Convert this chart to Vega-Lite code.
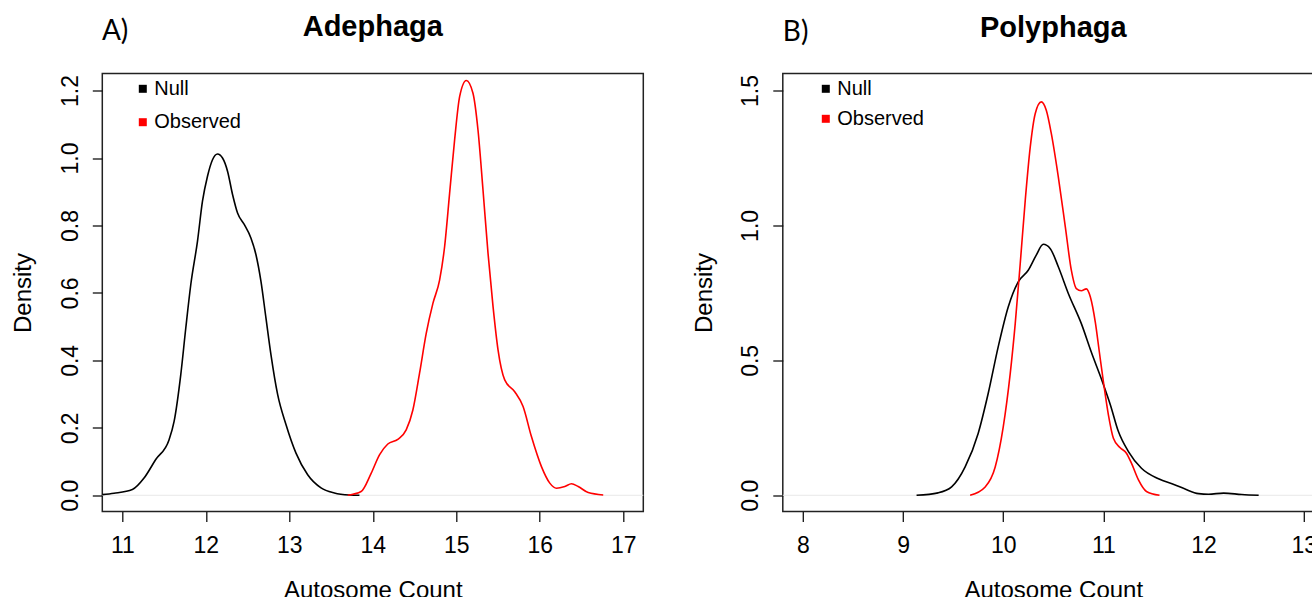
{
  "$schema": "https://vega.github.io/schema/vega-lite/v6.json",
  "background": "white",
  "padding": {"left": 10.3, "top": 11.5, "right": 0, "bottom": 0},
  "bounds": "flush",
  "spacing": 139.5,
  "config": {
    "font": "Liberation Sans",
    "view": {"stroke": "#222222", "strokeWidth": 1.5},
    "axis": {
      "domain": false,
      "grid": false,
      "tickColor": "#111111",
      "tickWidth": 1.3,
      "tickSize": 10,
      "labelColor": "black",
      "titleColor": "black",
      "labelFont": "Liberation Sans",
      "titleFont": "Liberation Sans",
      "labelFontSize": 23,
      "titleFontSize": 24,
      "titleFontWeight": "normal",
      "labelFlush": false,
      "labelOverlap": false,
      "labelBound": false
    },
    "axisX": {"labelBaseline": "alphabetic", "labelPadding": 31, "titleBaseline": "alphabetic", "titleY": 86},
    "axisY": {"labelAngle": -90, "labelAlign": "center", "labelBaseline": "alphabetic", "labelPadding": 15, "titleAngle": -90, "titleBaseline": "alphabetic", "titleX": -71.7},
    "legend": {
      "orient": "none",
      "title": null,
      "symbolType": "square",
      "symbolSize": 64,
      "symbolStrokeWidth": 0,
      "labelFont": "Liberation Sans",
      "labelFontSize": 20,
      "labelColor": "black",
      "labelOffset": 1.5,
      "padding": 0
    },
    "title": {"font": "Liberation Sans", "fontSize": 29, "fontWeight": "bold", "color": "black", "anchor": "middle", "baseline": "alphabetic", "offset": -24}
  },
  "datasets": {
    "curves": [
      {"p": "A", "s": "Null", "x": 10.76, "y": 0.002},
      {"p": "A", "s": "Null", "x": 10.9, "y": 0.006},
      {"p": "A", "s": "Null", "x": 11.12, "y": 0.017},
      {"p": "A", "s": "Null", "x": 11.26, "y": 0.051},
      {"p": "A", "s": "Null", "x": 11.4, "y": 0.106},
      {"p": "A", "s": "Null", "x": 11.56, "y": 0.165},
      {"p": "A", "s": "Null", "x": 11.62, "y": 0.219},
      {"p": "A", "s": "Null", "x": 11.7, "y": 0.358},
      {"p": "A", "s": "Null", "x": 11.76, "y": 0.496},
      {"p": "A", "s": "Null", "x": 11.82, "y": 0.625},
      {"p": "A", "s": "Null", "x": 11.9, "y": 0.753},
      {"p": "A", "s": "Null", "x": 11.96, "y": 0.872},
      {"p": "A", "s": "Null", "x": 12.02, "y": 0.946},
      {"p": "A", "s": "Null", "x": 12.08, "y": 0.995},
      {"p": "A", "s": "Null", "x": 12.14, "y": 1.012},
      {"p": "A", "s": "Null", "x": 12.2, "y": 1.0},
      {"p": "A", "s": "Null", "x": 12.26, "y": 0.961},
      {"p": "A", "s": "Null", "x": 12.32, "y": 0.892},
      {"p": "A", "s": "Null", "x": 12.38, "y": 0.837},
      {"p": "A", "s": "Null", "x": 12.46, "y": 0.803},
      {"p": "A", "s": "Null", "x": 12.54, "y": 0.763},
      {"p": "A", "s": "Null", "x": 12.6, "y": 0.714},
      {"p": "A", "s": "Null", "x": 12.66, "y": 0.635},
      {"p": "A", "s": "Null", "x": 12.72, "y": 0.526},
      {"p": "A", "s": "Null", "x": 12.78, "y": 0.417},
      {"p": "A", "s": "Null", "x": 12.86, "y": 0.299},
      {"p": "A", "s": "Null", "x": 12.96, "y": 0.21},
      {"p": "A", "s": "Null", "x": 13.08, "y": 0.125},
      {"p": "A", "s": "Null", "x": 13.22, "y": 0.061},
      {"p": "A", "s": "Null", "x": 13.38, "y": 0.022},
      {"p": "A", "s": "Null", "x": 13.54, "y": 0.007},
      {"p": "A", "s": "Null", "x": 13.72, "y": 0.001},
      {"p": "A", "s": "Null", "x": 13.84, "y": 0.0},
      {"p": "A", "s": "Observed", "x": 13.7, "y": 0.0},
      {"p": "A", "s": "Observed", "x": 13.86, "y": 0.011},
      {"p": "A", "s": "Observed", "x": 13.98, "y": 0.065},
      {"p": "A", "s": "Observed", "x": 14.08, "y": 0.12},
      {"p": "A", "s": "Observed", "x": 14.18, "y": 0.152},
      {"p": "A", "s": "Observed", "x": 14.3, "y": 0.166},
      {"p": "A", "s": "Observed", "x": 14.4, "y": 0.194},
      {"p": "A", "s": "Observed", "x": 14.48, "y": 0.253},
      {"p": "A", "s": "Observed", "x": 14.56, "y": 0.362},
      {"p": "A", "s": "Observed", "x": 14.64, "y": 0.48},
      {"p": "A", "s": "Observed", "x": 14.72, "y": 0.569},
      {"p": "A", "s": "Observed", "x": 14.8, "y": 0.638},
      {"p": "A", "s": "Observed", "x": 14.86, "y": 0.737},
      {"p": "A", "s": "Observed", "x": 14.92, "y": 0.895},
      {"p": "A", "s": "Observed", "x": 14.98, "y": 1.054},
      {"p": "A", "s": "Observed", "x": 15.04, "y": 1.182},
      {"p": "A", "s": "Observed", "x": 15.12, "y": 1.23},
      {"p": "A", "s": "Observed", "x": 15.2, "y": 1.192},
      {"p": "A", "s": "Observed", "x": 15.26, "y": 1.083},
      {"p": "A", "s": "Observed", "x": 15.32, "y": 0.905},
      {"p": "A", "s": "Observed", "x": 15.38, "y": 0.718},
      {"p": "A", "s": "Observed", "x": 15.44, "y": 0.56},
      {"p": "A", "s": "Observed", "x": 15.5, "y": 0.431},
      {"p": "A", "s": "Observed", "x": 15.58, "y": 0.342},
      {"p": "A", "s": "Observed", "x": 15.7, "y": 0.307},
      {"p": "A", "s": "Observed", "x": 15.8, "y": 0.263},
      {"p": "A", "s": "Observed", "x": 15.9, "y": 0.174},
      {"p": "A", "s": "Observed", "x": 16.02, "y": 0.085},
      {"p": "A", "s": "Observed", "x": 16.12, "y": 0.036},
      {"p": "A", "s": "Observed", "x": 16.2, "y": 0.021},
      {"p": "A", "s": "Observed", "x": 16.3, "y": 0.026},
      {"p": "A", "s": "Observed", "x": 16.38, "y": 0.034},
      {"p": "A", "s": "Observed", "x": 16.46, "y": 0.026},
      {"p": "A", "s": "Observed", "x": 16.58, "y": 0.008},
      {"p": "A", "s": "Observed", "x": 16.76, "y": 0.001},
      {"p": "B", "s": "Null", "x": 9.135, "y": 0.0},
      {"p": "B", "s": "Null", "x": 9.35, "y": 0.009},
      {"p": "B", "s": "Null", "x": 9.485, "y": 0.031},
      {"p": "B", "s": "Null", "x": 9.62, "y": 0.105},
      {"p": "B", "s": "Null", "x": 9.75, "y": 0.229},
      {"p": "B", "s": "Null", "x": 9.85, "y": 0.377},
      {"p": "B", "s": "Null", "x": 9.95, "y": 0.55},
      {"p": "B", "s": "Null", "x": 10.05, "y": 0.698},
      {"p": "B", "s": "Null", "x": 10.15, "y": 0.791},
      {"p": "B", "s": "Null", "x": 10.25, "y": 0.834},
      {"p": "B", "s": "Null", "x": 10.33, "y": 0.89},
      {"p": "B", "s": "Null", "x": 10.4, "y": 0.93},
      {"p": "B", "s": "Null", "x": 10.47, "y": 0.914},
      {"p": "B", "s": "Null", "x": 10.55, "y": 0.847},
      {"p": "B", "s": "Null", "x": 10.65, "y": 0.748},
      {"p": "B", "s": "Null", "x": 10.78, "y": 0.636},
      {"p": "B", "s": "Null", "x": 10.88, "y": 0.53},
      {"p": "B", "s": "Null", "x": 10.99, "y": 0.421},
      {"p": "B", "s": "Null", "x": 11.07, "y": 0.335},
      {"p": "B", "s": "Null", "x": 11.15, "y": 0.236},
      {"p": "B", "s": "Null", "x": 11.25, "y": 0.162},
      {"p": "B", "s": "Null", "x": 11.38, "y": 0.1},
      {"p": "B", "s": "Null", "x": 11.55, "y": 0.061},
      {"p": "B", "s": "Null", "x": 11.71, "y": 0.039},
      {"p": "B", "s": "Null", "x": 11.81, "y": 0.024},
      {"p": "B", "s": "Null", "x": 11.95, "y": 0.006},
      {"p": "B", "s": "Null", "x": 12.05, "y": 0.004},
      {"p": "B", "s": "Null", "x": 12.2, "y": 0.008},
      {"p": "B", "s": "Null", "x": 12.38, "y": 0.003},
      {"p": "B", "s": "Null", "x": 12.55, "y": 0.0},
      {"p": "B", "s": "Observed", "x": 9.67, "y": 0.0},
      {"p": "B", "s": "Observed", "x": 9.82, "y": 0.031},
      {"p": "B", "s": "Observed", "x": 9.92, "y": 0.105},
      {"p": "B", "s": "Observed", "x": 10.0, "y": 0.253},
      {"p": "B", "s": "Observed", "x": 10.07, "y": 0.451},
      {"p": "B", "s": "Observed", "x": 10.12, "y": 0.636},
      {"p": "B", "s": "Observed", "x": 10.17, "y": 0.859},
      {"p": "B", "s": "Observed", "x": 10.22, "y": 1.093},
      {"p": "B", "s": "Observed", "x": 10.27, "y": 1.291},
      {"p": "B", "s": "Observed", "x": 10.32, "y": 1.415},
      {"p": "B", "s": "Observed", "x": 10.38, "y": 1.458},
      {"p": "B", "s": "Observed", "x": 10.43, "y": 1.427},
      {"p": "B", "s": "Observed", "x": 10.48, "y": 1.341},
      {"p": "B", "s": "Observed", "x": 10.55, "y": 1.18},
      {"p": "B", "s": "Observed", "x": 10.62, "y": 0.995},
      {"p": "B", "s": "Observed", "x": 10.68, "y": 0.834},
      {"p": "B", "s": "Observed", "x": 10.73, "y": 0.766},
      {"p": "B", "s": "Observed", "x": 10.78, "y": 0.758},
      {"p": "B", "s": "Observed", "x": 10.83, "y": 0.765},
      {"p": "B", "s": "Observed", "x": 10.87, "y": 0.735},
      {"p": "B", "s": "Observed", "x": 10.92, "y": 0.64},
      {"p": "B", "s": "Observed", "x": 10.96, "y": 0.53},
      {"p": "B", "s": "Observed", "x": 11.0, "y": 0.421},
      {"p": "B", "s": "Observed", "x": 11.05, "y": 0.298},
      {"p": "B", "s": "Observed", "x": 11.1, "y": 0.211},
      {"p": "B", "s": "Observed", "x": 11.165, "y": 0.177},
      {"p": "B", "s": "Observed", "x": 11.23, "y": 0.156},
      {"p": "B", "s": "Observed", "x": 11.28, "y": 0.119},
      {"p": "B", "s": "Observed", "x": 11.35, "y": 0.057},
      {"p": "B", "s": "Observed", "x": 11.43, "y": 0.014},
      {"p": "B", "s": "Observed", "x": 11.56, "y": 0.0}
    ]
  },
  "resolve": {"scale": {"color": "independent"}, "legend": {"color": "independent"}},
  "hconcat": [
    {
      "width": 541,
      "height": 438,
      "title": {"text": "Adephaga"},
      "layer": [
        {
          "data": {"values": [{"z": 0}]},
          "mark": {"type": "rule", "color": "#e8e8e8", "strokeWidth": 1},
          "encoding": {"y": {"field": "z", "type": "quantitative"}}
        },
        {
          "data": {"name": "curves"},
          "transform": [{"filter": "datum.p === 'A'"}],
          "mark": {"type": "line", "strokeWidth": 1.6, "interpolate": "monotone"},
          "encoding": {
            "x": {"field": "x", "type": "quantitative", "scale": {"domain": [10.76, 17.24], "nice": false, "zero": false},
                  "axis": {"values": [11, 12, 13, 14, 15, 16, 17], "format": "d", "title": "Autosome Count"}},
            "y": {"field": "y", "type": "quantitative", "scale": {"domain": [-0.0481, 1.2506], "nice": false, "zero": false},
                  "axis": {"values": [0, 0.2, 0.4, 0.6, 0.8, 1.0, 1.2], "format": ".1f", "title": "Density"}},
            "color": {"field": "s", "type": "nominal", "scale": {"domain": ["Null", "Observed"], "range": ["#000000", "#ff0000"]},
                      "legend": {"legendX": 30.5, "legendY": 5.3, "rowPadding": 13.4,
                                 "encode": {"symbols": {"update": {"fill": {"signal": "datum.value === 'Observed' ? '#ff0000' : '#000000'"}, "strokeWidth": {"value": 0}}}}}}
          }
        },
        {
          "data": {"values": [{"label": "A)"}]},
          "mark": {"type": "text", "font": "Lato", "fontSize": 28, "align": "left", "baseline": "alphabetic", "color": "black"},
          "encoding": {
            "x": {"datum": 10.755, "type": "quantitative"},
            "y": {"datum": 1.351, "type": "quantitative"},
            "text": {"field": "label"}
          }
        }
      ]
    },
    {
      "width": 541,
      "height": 438,
      "title": {"text": "Polyphaga"},
      "layer": [
        {
          "data": {"values": [{"z": 0}]},
          "mark": {"type": "rule", "color": "#e8e8e8", "strokeWidth": 1},
          "encoding": {"y": {"field": "z", "type": "quantitative"}}
        },
        {
          "data": {"name": "curves"},
          "transform": [{"filter": "datum.p === 'B'"}],
          "mark": {"type": "line", "strokeWidth": 1.6, "interpolate": "monotone"},
          "encoding": {
            "x": {"field": "x", "type": "quantitative", "scale": {"domain": [7.8, 13.2], "nice": false, "zero": false},
                  "axis": {"values": [8, 9, 10, 11, 12, 13], "format": "d", "title": "Autosome Count"}},
            "y": {"field": "y", "type": "quantitative", "scale": {"domain": [-0.0601, 1.563], "nice": false, "zero": false},
                  "axis": {"values": [0, 0.5, 1.0, 1.5], "format": ".1f", "title": "Density"}},
            "color": {"field": "s", "type": "nominal", "scale": {"domain": ["Null", "Observed"], "range": ["#000000", "#ff0000"]},
                      "legend": {"legendX": 33, "legendY": 5.3, "rowPadding": 10,
                                 "encode": {"symbols": {"update": {"fill": {"signal": "datum.value === 'Observed' ? '#ff0000' : '#000000'"}, "strokeWidth": {"value": 0}}}}}}
          }
        },
        {
          "data": {"values": [{"label": "B)"}]},
          "mark": {"type": "text", "font": "Lato", "fontSize": 28, "align": "left", "baseline": "alphabetic", "color": "black"},
          "encoding": {
            "x": {"datum": 7.8, "type": "quantitative"},
            "y": {"datum": 1.683, "type": "quantitative"},
            "text": {"field": "label"}
          }
        }
      ]
    }
  ]
}
